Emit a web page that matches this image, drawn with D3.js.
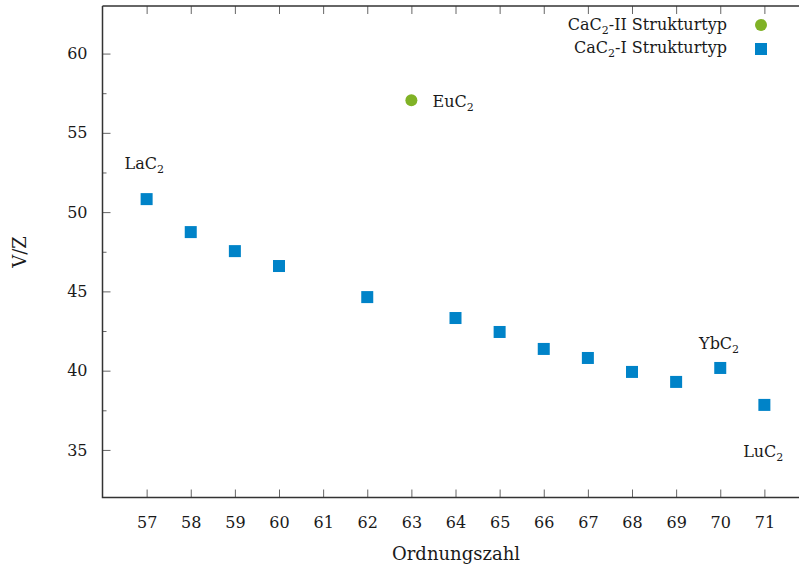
<!DOCTYPE html>
<html>
<head>
<meta charset="utf-8">
<script src="https://cdn.jsdelivr.net/npm/d3@7"></script>
<style>
  html, body { margin: 0; padding: 0; background: #fff; }
  svg { display: block; overflow: hidden; }
  text { font-family: "DejaVu Serif", "Liberation Serif", serif; fill: #1a1a1a; }
</style>
</head>
<body>
<svg id="chart" width="799" height="570"></svg>
<script>
// Ordnungszahl (atomic number) and volume per formula unit V/Z
const typeIZ = [57, 58, 59, 60, 62, 64, 65, 66, 67, 68, 69, 70, 71];
const typeIV = [50.82, 48.74, 47.54, 46.6, 44.64, 43.32, 42.44, 41.37, 40.8, 39.92, 39.29, 40.17, 37.84];
const typeIIZ = [63];
const typeIIV = [57.06];

const xTicks = [57, 58, 59, 60, 61, 62, 63, 64, 65, 66, 67, 68, 69, 70, 71];
const yTicks = [35, 40, 45, 50, 55, 60];
const yMinorTicks = [37.5, 42.5, 47.5, 52.5, 57.5];

// compound labels: base, data position of text start (x) and baseline (y)
const labelNames = ["La", "Eu", "Yb", "Lu"];
const labelX = [56.5, 63.48, 69.52, 70.52];
const labelY = [52.7, 56.6, 41.35, 34.55];

const blue = "#0083c8";
const green = "#80b226";

const svg = d3.select("#chart");
const plotL = 102.5, plotR = 808.5, plotT = 6, plotB = 497.5;

const x = d3.scaleLinear().domain([56, 72]).range([plotL, plotR]);
const y = d3.scaleLinear().domain([32, 63]).range([plotB, plotT]);

function styleAxis(g) {
  g.select(".domain").remove();
  g.selectAll(".tick line").attr("stroke", "#666").attr("stroke-width", 1);
  g.selectAll(".tick text").attr("font-size", 16).attr("font-family", "DejaVu Serif, serif").attr("fill", "#1a1a1a");
}

// bottom axis, ticks pointing inward
svg.append("g")
  .attr("transform", `translate(0,${plotB})`)
  .call(d3.axisBottom(x).tickValues(xTicks).tickFormat(d3.format("d")).tickSize(-8).tickPadding(19))
  .call(styleAxis);

// mirrored ticks along the top edge
svg.append("g")
  .attr("transform", `translate(0,${plotT})`)
  .call(d3.axisTop(x).tickValues(xTicks).tickFormat("").tickSize(-8))
  .call(styleAxis);

// left axis with major and minor ticks
svg.append("g")
  .attr("transform", `translate(${plotL},0)`)
  .call(d3.axisLeft(y).tickValues(yTicks).tickFormat(d3.format("d")).tickSize(-8).tickPadding(15))
  .call(styleAxis);

svg.append("g")
  .attr("transform", `translate(${plotL},0)`)
  .call(d3.axisLeft(y).tickValues(yMinorTicks).tickFormat("").tickSize(-4))
  .call(styleAxis);

// frame
const frame = svg.append("g").attr("stroke", "#333").attr("stroke-width", 1.5).attr("fill", "none");
frame.append("path").attr("d", `M${plotL},${plotT}H${plotR}`);
frame.append("path").attr("d", `M${plotL},${plotT}V${plotB}H${plotR}`);

// axis titles
svg.append("text")
  .attr("x", 456).attr("y", 560)
  .attr("text-anchor", "middle").attr("font-size", 18)
  .text("Ordnungszahl");

svg.append("text")
  .attr("transform", `translate(26,252) rotate(-90)`)
  .attr("text-anchor", "middle").attr("font-size", 18)
  .text("V/Z");

// data marks
const s = 12;
svg.append("g").selectAll("rect")
  .data(typeIZ.map((z, i) => [z, typeIV[i]]))
  .join("rect")
  .attr("x", d => x(d[0]) - s / 2)
  .attr("y", d => y(d[1]) - s / 2)
  .attr("width", s).attr("height", s)
  .attr("fill", blue);

svg.append("g").selectAll("circle")
  .data(typeIIZ.map((z, i) => [z, typeIIV[i]]))
  .join("circle")
  .attr("cx", d => x(d[0]))
  .attr("cy", d => y(d[1]))
  .attr("r", 6)
  .attr("fill", green);

// compound labels with subscript 2
function chemLabel(sel, base) {
  sel.append("tspan").text(base + "C");
  sel.append("tspan").attr("font-size", 11).attr("dy", 4).text("2");
}

labelNames.forEach((n, i) => {
  svg.append("text")
    .attr("x", x(labelX[i])).attr("y", y(labelY[i]))
    .attr("font-size", 16)
    .call(chemLabel, n);
});

// legend
const legY = [30, 53];
[0, 1].forEach(i => {
  const t = svg.append("text")
    .attr("x", 727).attr("y", legY[i])
    .attr("text-anchor", "end").attr("font-size", 16);
  t.append("tspan").text("CaC");
  t.append("tspan").attr("font-size", 11).attr("dy", 4).text("2");
  t.append("tspan").attr("dy", -4).text(i === 0 ? "-II Strukturtyp" : "-I Strukturtyp");
});
svg.append("circle").attr("cx", 761).attr("cy", 25).attr("r", 6).attr("fill", green);
svg.append("rect").attr("x", 755).attr("y", 43).attr("width", s).attr("height", s).attr("fill", blue);
</script>
</body>
</html>
